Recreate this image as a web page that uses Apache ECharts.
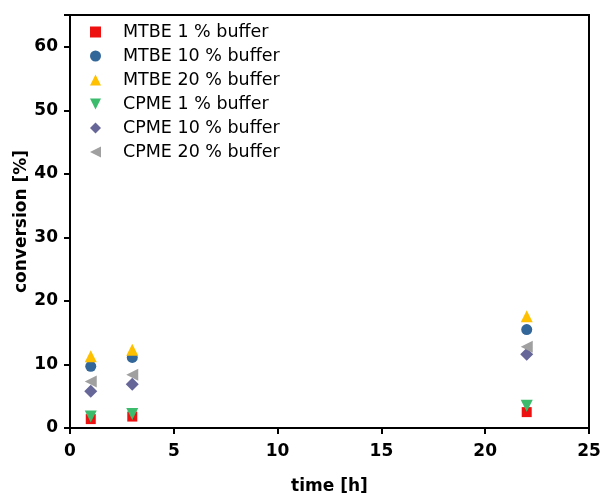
<!DOCTYPE html>
<html><head><meta charset="utf-8">
<script src="https://cdn.jsdelivr.net/npm/echarts@6/dist/echarts.min.js"></script>
<style>html,body{margin:0;padding:0;background:#fff}#c{width:600px;height:493px}</style>
</head><body><div id="c"></div>
<script>
const times = [1, 3, 22];
const seriesNames = ['MTBE 1 % buffer','MTBE 10 % buffer','MTBE 20 % buffer','CPME 1 % buffer','CPME 10 % buffer','CPME 20 % buffer'];
const mtbe1 = [1.4, 1.8, 2.5];
const mtbe10 = [9.7, 11.1, 15.5];
const mtbe20 = [11.3, 12.3, 17.6];
const cpme1 = [1.8, 2.2, 3.5];
const cpme10 = [5.8, 6.9, 11.6];
const cpme20 = [7.3, 8.4, 12.8];
const xTicks = [0, 5, 10, 15, 20, 25];
const yTicks = [0, 10, 20, 30, 40, 50, 60];

const values = [mtbe1, mtbe10, mtbe20, cpme1, cpme10, cpme20];
const styles = [
  {symbol:'rect', size:10, rot:0, color:'#ee1111', icon:'rect'},
  {symbol:'circle', size:11, rot:0, color:'#336699', icon:'circle'},
  {symbol:'triangle', size:12, rot:0, color:'#ffc000', icon:'triangle'},
  {symbol:'triangle', size:12, rot:180, color:'#3cbb6c', icon:'path://M0,0 L10,0 L5,10 Z'},
  {symbol:'diamond', size:13, rot:0, color:'#666699', icon:'diamond'},
  {symbol:'triangle', size:12, rot:90, color:'#a0a0a0', icon:'path://M10,0 L10,10 L0,5 Z'}
];
const font = '"DejaVu Sans", sans-serif';
const chart = echarts.init(document.getElementById('c'));
chart.setOption({
  animation:false,
  backgroundColor:'#fff',
  grid:{left:70, right:11, top:15, bottom:65, outerBoundsMode:'none', containLabel:false, show:true, borderColor:'#000', borderWidth:2, backgroundColor:'transparent'},
  legend:{
    orient:'vertical', left:85, top:18, itemWidth:11, itemHeight:11, itemGap:6,
    symbolRotate:0,
    textStyle:{fontFamily:font, fontSize:17.5, color:'#000', lineHeight:18, padding:[0,0,0,17]},
    data: seriesNames.map((n,i)=>({name:n, icon:styles[i].icon, itemStyle:{color:styles[i].color, opacity:1}}))
  },
  xAxis:{
    type:'value', min:0, max:25, interval:5,
    name:'time [h]', nameLocation:'middle', nameGap:50, nameMoveOverlap:false,
    nameTextStyle:{fontFamily:font, fontSize:17, fontWeight:'bold', color:'#000'},
    axisLine:{show:true, onZero:false, lineStyle:{color:'#000', width:2}},
    axisTick:{show:true, length:6, lineStyle:{color:'#000', width:2}},
    axisLabel:{fontFamily:font, fontSize:17, fontWeight:'bold', color:'#000', margin:15,
      formatter:v=> xTicks.includes(v)? String(v):''},
    splitLine:{show:false}
  },
  yAxis:{
    type:'value', min:0, max:65, interval:10,
    name:'conversion [%]', nameLocation:'middle', nameGap:40, nameMoveOverlap:false,
    nameTextStyle:{fontFamily:font, fontSize:17, fontWeight:'bold', color:'#000'},
    axisLine:{show:true, onZero:false, lineStyle:{color:'#000', width:2}},
    axisTick:{show:true, length:6, lineStyle:{color:'#000', width:2}},
    axisLabel:{fontFamily:font, fontSize:17, fontWeight:'bold', color:'#000', margin:12,
      formatter:v=> yTicks.includes(v)? String(v):''},
    splitLine:{show:false}
  },
  series: seriesNames.map((n,i)=>({
    name:n, type:'scatter', symbol:styles[i].symbol, symbolSize:styles[i].size, symbolRotate:styles[i].rot,
    itemStyle:{color:styles[i].color, opacity:1},
    data: times.map((t,j)=>[t, values[i][j]])
  }))
});
</script></body></html>
